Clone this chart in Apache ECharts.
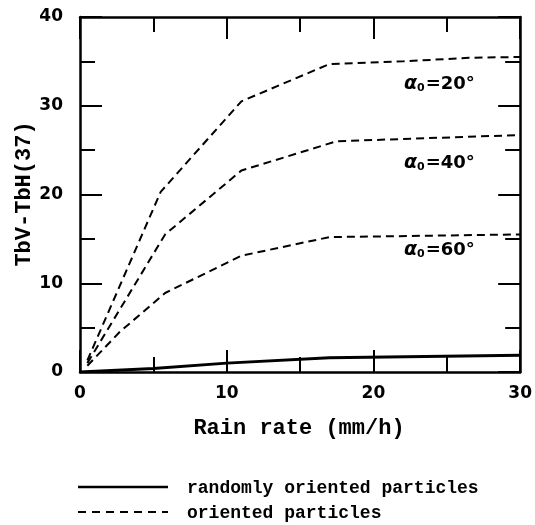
<!DOCTYPE html>
<html>
<head>
<meta charset="utf-8">
<script src="https://cdn.jsdelivr.net/npm/echarts@6/dist/echarts.min.js"></script>
<style>html,body{margin:0;padding:0;background:#fff}#c{width:535px;height:525px}</style>
</head>
<body>
<div id="c"></div>
<script>
// Data (x = rain rate mm/h, y = TbV-TbH(37) K)
const xTicks = [0, 10, 20, 30];
const yTicks = [0, 10, 20, 30, 40];
const randomX = [0, 5, 10, 17, 30];
const randomY = [0, 0.4, 1.0, 1.6, 1.9];
const a20X = [0.5, 5.5, 11, 17, 22, 26.5, 30];
const a20Y = [1.3, 20.3, 30.5, 34.7, 35.0, 35.4, 35.5];
const a40X = [0.5, 5.8, 11, 17.5, 30];
const a40Y = [1.0, 15.5, 22.7, 26.0, 26.7];
const a60X = [0.5, 2.7, 5.8, 11, 17, 30];
const a60Y = [0.7, 4.5, 8.9, 13.1, 15.2, 15.5];
const labelRandom = 'randomly oriented particles';
const labelOriented = 'oriented particles';
const angleLabels = ['20°', '40°', '60°'];

const zip = (xs, ys) => xs.map((x, i) => [x, ys[i]]);

const chart = echarts.init(document.getElementById('c'));
const axisCommon = {
  type: 'value',
  axisLine: { show: true, onZero: false, lineStyle: { color: '#000', width: 2.5 } },
  axisTick: { show: true, inside: true, length: 22, lineStyle: { color: '#000', width: 2 } },
  minorTick: { show: true, splitNumber: 2, length: 15, lineStyle: { color: '#000', width: 2 } },
  splitLine: { show: false },
  minorSplitLine: { show: false }
};
const xBase = Object.assign({}, axisCommon, { min: xTicks[0], max: xTicks[xTicks.length - 1], interval: 10 });
const yBase = Object.assign({}, axisCommon, { min: yTicks[0], max: yTicks[yTicks.length - 1], interval: 10 });

const dashed = (name, data) => ({
  name, type: 'line', data, showSymbol: false, symbol: 'none', smooth: false,
  lineStyle: { color: '#000', width: 2, type: [8, 5] }, itemStyle: { color: '#000' }, silent: true
});

const richLabel = (txt) => ({
  text: '{a|α}{s|0}{n|=' + txt + '}',
  rich: {
    a: { font: 'italic bold 19px "DejaVu Sans"', fill: '#000' },
    s: { font: 'bold 11px "DejaVu Sans"', fill: '#000', verticalAlign: 'bottom', padding: [0, 1, 0, 0] },
    n: { font: 'bold 18px "DejaVu Sans"', fill: '#000' }
  },
  verticalAlign: 'middle', align: 'left'
});

const monoBold = (size) => 'bold ' + size + 'px "Liberation Mono"';

chart.setOption({
  animation: false,
  backgroundColor: '#fff',
  grid: { left: 80, top: 17, right: 13, bottom: 153 },
  xAxis: [
    Object.assign({}, xBase, { position: 'bottom',
      axisLabel: { show: true, margin: 13, color: '#000', fontFamily: 'DejaVu Sans', fontWeight: 'bold', fontSize: 17 } }),
    Object.assign({}, xBase, { position: 'top', axisLabel: { show: false } })
  ],
  yAxis: [
    Object.assign({}, yBase, { position: 'left',
      axisLabel: { show: true, margin: 17, color: '#000', fontFamily: 'DejaVu Sans', fontWeight: 'bold', fontSize: 17 } }),
    Object.assign({}, yBase, { position: 'right', axisLabel: { show: false } })
  ],
  series: [
    { name: labelRandom, type: 'line', data: zip(randomX, randomY), showSymbol: false, symbol: 'none',
      lineStyle: { color: '#000', width: 3 }, itemStyle: { color: '#000' }, silent: true },
    dashed(labelOriented, zip(a20X, a20Y)),
    dashed(labelOriented, zip(a40X, a40Y)),
    dashed(labelOriented, zip(a60X, a60Y))
  ],
  graphic: [
    { type: 'text', x: 299, y: 428, style: { text: 'Rain rate (mm/h)', font: monoBold(22), fill: '#000', align: 'center', verticalAlign: 'middle' } },
    { type: 'text', x: 24, y: 194, rotation: Math.PI / 2, style: { text: 'TbV-TbH(37)', font: monoBold(22), fill: '#000', align: 'center', verticalAlign: 'middle' } },
    { type: 'text', x: 404, y: 84, style: richLabel(angleLabels[0]) },
    { type: 'text', x: 404, y: 163, style: richLabel(angleLabels[1]) },
    { type: 'text', x: 404, y: 250, style: richLabel(angleLabels[2]) },
    // legend
    { type: 'line', shape: { x1: 78, y1: 487, x2: 168, y2: 487 }, style: { stroke: '#000', lineWidth: 2.5 } },
    { type: 'text', x: 187, y: 488, style: { text: labelRandom, font: monoBold(18), fill: '#000', align: 'left', verticalAlign: 'middle' } },
    { type: 'line', shape: { x1: 78, y1: 512, x2: 168, y2: 512 }, style: { stroke: '#000', lineWidth: 2, lineDash: [8, 6] } },
    { type: 'text', x: 187, y: 513, style: { text: labelOriented, font: monoBold(18), fill: '#000', align: 'left', verticalAlign: 'middle' } }
  ]
});
</script>
</body>
</html>
